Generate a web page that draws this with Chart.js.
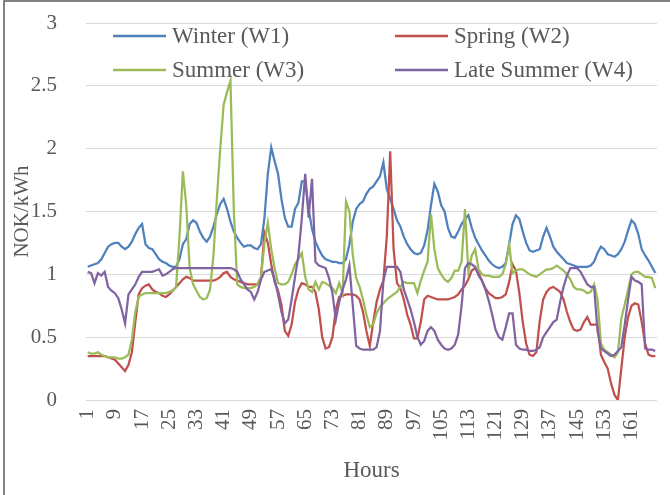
<!DOCTYPE html>
<html>
<head>
<meta charset="utf-8">
<script src="https://cdn.jsdelivr.net/npm/chart.js@4.4.0/dist/chart.umd.min.js"></script>
<style>
html,body{margin:0;padding:0;background:#fff}
#wrap{position:relative;width:670px;height:495px}
</style>
</head>
<body>
<div id="wrap"><canvas id="c" width="670" height="495"></canvas></div>
<script>
// ── Data (one value per hour, 168 h) ──
const hours=Array.from({length:168},(_,i)=>String(i+1));
const xTickLabels=['1','9','17','25','33','41','49','57','65','73','81','89','97','105','113','121','129','137','145','153','161'];
const yTicks=[0,0.5,1,1.5,2,2.5,3];

const winter=[
  1.06,1.07,1.08,1.09,1.12,1.17,1.22,1.24,1.25,1.25,1.22,1.20,
  1.22,1.26,1.32,1.37,1.40,1.24,1.21,1.20,1.16,1.12,1.10,1.09,
  1.07,1.06,1.06,1.12,1.24,1.28,1.40,1.43,1.41,1.34,1.29,1.26,
  1.30,1.38,1.48,1.56,1.60,1.52,1.42,1.34,1.29,1.25,1.22,1.23,
  1.23,1.21,1.20,1.24,1.45,1.80,2.01,1.90,1.80,1.60,1.45,1.38,
  1.38,1.52,1.57,1.74,1.74,1.52,1.36,1.26,1.20,1.15,1.12,1.11,
  1.10,1.10,1.09,1.09,1.12,1.24,1.42,1.52,1.56,1.58,1.64,1.68,
  1.70,1.74,1.78,1.89,1.68,1.60,1.52,1.43,1.38,1.30,1.24,1.20,
  1.17,1.16,1.17,1.23,1.35,1.55,1.72,1.66,1.55,1.50,1.37,1.30,
  1.29,1.34,1.40,1.44,1.47,1.37,1.29,1.24,1.19,1.15,1.11,1.08,
  1.06,1.05,1.06,1.09,1.24,1.40,1.47,1.44,1.34,1.25,1.19,1.18,
  1.19,1.20,1.30,1.37,1.30,1.22,1.18,1.15,1.12,1.09,1.08,1.07,
  1.06,1.06,1.06,1.06,1.07,1.10,1.17,1.22,1.20,1.16,1.15,1.14,
  1.16,1.20,1.26,1.35,1.43,1.40,1.32,1.20,1.15,1.11,1.06,1.01
];
const spring=[
  0.35,0.35,0.35,0.35,0.35,0.35,0.34,0.33,0.32,0.29,0.26,0.23,
  0.28,0.38,0.62,0.84,0.89,0.91,0.92,0.88,0.86,0.85,0.83,0.82,
  0.84,0.87,0.90,0.93,0.96,0.98,0.97,0.95,0.95,0.95,0.95,0.95,
  0.95,0.95,0.96,0.98,1.01,1.02,0.98,0.96,0.95,0.94,0.93,0.92,
  0.92,0.92,0.92,0.98,1.33,1.25,1.08,0.94,0.87,0.76,0.55,0.51,
  0.60,0.78,0.88,0.93,0.92,0.90,0.90,0.86,0.72,0.50,0.41,0.42,
  0.50,0.72,0.82,0.83,0.84,0.84,0.84,0.83,0.80,0.70,0.55,0.43,
  0.62,0.78,0.88,0.95,1.30,1.98,1.20,0.93,0.89,0.80,0.68,0.60,
  0.49,0.49,0.62,0.80,0.83,0.82,0.81,0.80,0.80,0.80,0.80,0.81,
  0.82,0.84,0.88,0.91,0.96,1.03,1.05,1.01,0.95,0.89,0.85,0.83,
  0.81,0.81,0.82,0.84,0.94,1.08,1.03,0.85,0.62,0.45,0.36,0.35,
  0.38,0.63,0.80,0.86,0.89,0.90,0.88,0.86,0.80,0.70,0.62,0.56,
  0.55,0.56,0.62,0.66,0.60,0.60,0.60,0.36,0.30,0.25,0.13,0.04,
  0.00,0.25,0.50,0.66,0.75,0.77,0.76,0.62,0.45,0.36,0.35,0.35
];
const summer=[
  0.38,0.37,0.37,0.38,0.36,0.35,0.34,0.34,0.34,0.33,0.33,0.34,
  0.36,0.48,0.70,0.82,0.84,0.85,0.85,0.85,0.85,0.85,0.85,0.85,
  0.86,0.87,0.90,1.30,1.82,1.55,1.05,0.92,0.87,0.82,0.80,0.81,
  0.88,1.15,1.60,2.00,2.35,2.45,2.54,1.50,0.92,0.90,0.89,0.89,
  0.89,0.90,0.92,0.98,1.25,1.41,1.20,1.05,0.93,0.92,0.92,0.94,
  1.00,1.08,1.12,1.17,0.98,0.88,0.86,0.94,0.88,0.94,0.93,0.91,
  0.89,0.85,0.93,0.85,1.58,1.50,1.15,0.97,0.90,0.80,0.68,0.58,
  0.60,0.69,0.74,0.77,0.80,0.82,0.84,0.86,0.90,0.94,0.93,0.93,
  0.93,0.85,0.95,1.03,1.10,1.48,1.20,1.05,1.00,0.96,0.94,0.97,
  1.03,1.03,1.10,1.52,1.02,1.15,1.20,1.04,1.00,0.99,0.99,0.98,
  0.98,0.98,1.00,1.08,1.24,1.01,1.03,1.04,1.04,1.02,1.00,0.99,
  0.98,1.00,1.02,1.04,1.04,1.05,1.07,1.05,1.03,1.00,0.96,0.90,
  0.88,0.88,0.87,0.85,0.86,0.92,0.80,0.45,0.40,0.38,0.36,0.34,
  0.38,0.65,0.76,0.88,1.00,1.02,1.02,1.00,0.98,0.98,0.97,0.89
];
const lateSummer=[
  1.02,1.01,0.93,1.01,0.99,1.02,0.90,0.87,0.85,0.81,0.72,0.61,
  0.84,0.88,0.92,0.98,1.02,1.02,1.02,1.02,1.03,1.04,0.99,1.00,
  1.02,1.04,1.05,1.05,1.05,1.05,1.05,1.05,1.05,1.05,1.05,1.05,
  1.05,1.05,1.05,1.05,1.05,1.05,1.05,1.04,1.02,0.96,0.92,0.88,
  0.86,0.80,0.86,0.96,1.02,1.03,1.04,0.96,0.84,0.70,0.61,0.64,
  0.80,0.98,1.15,1.45,1.80,1.45,1.76,1.10,1.07,1.06,1.05,0.97,
  0.85,0.64,0.78,0.88,0.96,1.07,0.75,0.43,0.41,0.40,0.40,0.40,
  0.40,0.42,0.55,0.95,1.06,1.06,1.06,1.06,1.02,0.88,0.80,0.72,
  0.62,0.50,0.44,0.47,0.55,0.58,0.55,0.48,0.44,0.41,0.40,0.41,
  0.44,0.52,0.75,1.05,1.09,1.08,1.06,0.99,0.95,0.88,0.79,0.68,
  0.56,0.50,0.48,0.58,0.69,0.69,0.44,0.41,0.40,0.40,0.39,0.39,
  0.40,0.42,0.50,0.54,0.58,0.62,0.64,0.78,0.90,0.99,1.05,1.05,
  1.05,1.02,0.97,0.92,0.90,0.90,0.55,0.41,0.39,0.37,0.35,0.36,
  0.39,0.42,0.60,0.80,0.98,0.95,0.94,0.92,0.41,0.40,0.40,0.39
];

const seriesNames=['Winter (W1)','Spring (W2)','Summer (W3)','Late Summer (W4)'];
const seriesColors=['#4f81bd','#c0504d','#9bbb59','#8064a2'];

// ── Style ──
const FONT='"Liberation Serif","Times New Roman",serif';
const TXT='#595959';
const GRID='#d9d9d9';

// scales keep their fixed size; no extra label padding pushed onto the plot
const noPad=s=>{s.paddingTop=0;s.paddingBottom=0;s.paddingLeft=0;s.paddingRight=0};

// ── Frame + in-plot legend (2 x 2 like the Excel original) ──
const framePlugin={
  id:'frame',
  afterDraw(chart){
    const {ctx,chartArea:a}=chart;
    ctx.save();
    // chart border, cropped at right/bottom in the source
    ctx.strokeStyle='#5a5a5a';ctx.lineWidth=1.5;
    ctx.beginPath();ctx.moveTo(4,495);ctx.lineTo(4,1);ctx.lineTo(670,1);ctx.stroke();
    // legend
    const slots=[[27,13],[309,13],[27,47],[309,47]];
    ctx.font='23px '+FONT;ctx.textBaseline='middle';ctx.textAlign='left';
    chart.data.datasets.forEach((ds,i)=>{
      const x=a.left+slots[i][0],y=a.top+slots[i][1];
      ctx.strokeStyle=ds.borderColor;ctx.lineWidth=2.5;
      ctx.beginPath();ctx.moveTo(x,y);ctx.lineTo(x+53,y);ctx.stroke();
      ctx.fillStyle=TXT;ctx.fillText(ds.label,x+59,y+1);
    });
    ctx.restore();
  }
};

const seriesData=[winter,spring,summer,lateSummer];
const datasets=seriesData.map((d,i)=>({
  label:seriesNames[i],
  data:d,
  borderColor:seriesColors[i],
  backgroundColor:seriesColors[i],
  borderWidth:2.25,
  pointRadius:0,
  tension:0,
  fill:false,
  order:3-i // Excel draws the last series on top
}));

new Chart(document.getElementById('c'),{
  type:'line',
  data:{labels:hours,datasets},
  options:{
    responsive:false,animation:false,devicePixelRatio:1,
    layout:{padding:{left:0,right:13,top:23,bottom:0}},
    plugins:{legend:{display:false},tooltip:{enabled:false}},
    scales:{
      x:{
        offset:true,
        grid:{display:false,drawTicks:false},
        border:{display:false},
        ticks:{autoSkip:false,maxRotation:90,minRotation:90,padding:9,color:TXT,font:{family:FONT,size:21},
          callback:(v,i)=>xTickLabels.includes(hours[i])?hours[i]:''},
        title:{display:true,text:'Hours',color:TXT,font:{family:FONT,size:23,lineHeight:1},padding:{top:0,bottom:13}},
        afterFit:s=>{s.height=95;noPad(s)}
      },
      y:{
        min:0,max:3,
        afterBuildTicks:s=>{s.ticks=yTicks.map(v=>({value:v}))},
        grid:{color:GRID,lineWidth:1,drawTicks:false},
        border:{display:false},
        ticks:{padding:29,color:TXT,font:{family:FONT,size:21},callback:v=>String(v)},
        title:{display:true,text:'NOK/kWh',color:TXT,font:{family:FONT,size:21,lineHeight:1},padding:{top:12,bottom:0}},
        afterFit:s=>{s.width=86;noPad(s)}
      }
    }
  },
  plugins:[framePlugin]
});
</script>
</body>
</html>
